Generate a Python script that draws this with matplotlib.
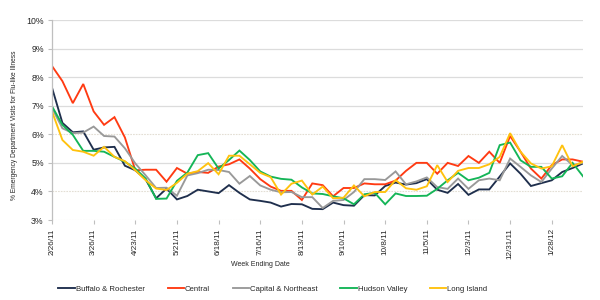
import matplotlib
matplotlib.use("Agg")
import matplotlib.pyplot as plt
import numpy as np

plt.rcParams['font.family'] = ['Liberation Sans', 'DejaVu Sans']

tick_labels = ["2/26/11", "3/26/11", "4/23/11", "5/21/11", "6/18/11", "7/16/11",
               "8/13/11", "9/10/11", "10/8/11", "11/5/11", "12/3/11", "12/31/11", "1/28/12"]

buffalo = [7.63, 6.40, 6.07, 6.10, 5.46, 5.54, 5.56, 4.90, 4.74, 4.42,
           3.76, 4.10, 3.72, 3.84, 4.06, 4.00, 3.94, 4.22, 3.95, 3.72,
           3.67, 3.61, 3.47, 3.56, 3.55, 3.39, 3.38, 3.61, 3.52, 3.50,
           3.87, 3.86, 4.19, 4.31, 4.24, 4.29, 4.43, 4.06, 3.95, 4.26,
           3.88, 4.07, 4.07, 4.52, 4.98, 4.62, 4.19, 4.29, 4.39, 4.68,
           4.82, 4.98]
central = [8.39, 7.86, 7.09, 7.76, 6.80, 6.33, 6.60, 5.89, 4.74, 4.76,
           4.76, 4.34, 4.82, 4.62, 4.68, 4.65, 4.87, 4.95, 5.12, 4.80,
           4.43, 4.17, 4.02, 4.02, 3.70, 4.28, 4.22, 3.83, 4.12, 4.12,
           4.28, 4.25, 4.25, 4.38, 4.72, 5.00, 5.00, 4.62, 5.00, 4.89,
           5.24, 5.00, 5.39, 5.00, 5.94, 5.39, 4.80, 4.45, 4.92, 5.12,
           5.12, 5.04]
capital = [6.92, 6.21, 6.04, 6.06, 6.27, 5.94, 5.92, 5.51, 4.98, 4.56,
           4.12, 4.13, 3.85, 4.56, 4.64, 4.76, 4.75, 4.68, 4.27, 4.54,
           4.21, 4.06, 3.97, 3.98, 3.80, 3.80, 3.42, 3.67, 3.70, 3.98,
           4.43, 4.43, 4.40, 4.70, 4.25, 4.35, 4.49, 4.15, 4.09, 4.45,
           4.09, 4.39, 4.45, 4.39, 5.15, 4.86, 4.56, 4.33, 4.80, 5.24,
           4.92, 5.00]
hudson = [6.98, 6.33, 5.98, 5.42, 5.42, 5.39, 5.21, 5.04, 4.80, 4.45,
          3.74, 3.75, 4.37, 4.66, 5.27, 5.34, 4.80, 5.10, 5.43, 5.10,
          4.70, 4.52, 4.44, 4.41, 4.14, 3.93, 3.91, 3.83, 3.76, 3.55,
          3.90, 3.95, 3.55, 3.93, 3.84, 3.84, 3.85, 4.09, 4.39, 4.65,
          4.39, 4.48, 4.65, 5.62, 5.71, 5.09, 4.86, 4.86, 4.45, 4.53,
          5.00, 4.53]
long_island = [6.80, 5.80, 5.45, 5.39, 5.25, 5.56, 5.21, 5.06, 4.74, 4.39,
               4.10, 4.05, 4.30, 4.62, 4.71, 4.99, 4.60, 5.25, 5.25, 4.95,
               4.65, 4.50, 3.89, 4.27, 4.38, 3.89, 4.17, 3.76, 3.78, 4.21,
               3.83, 3.98, 3.98, 4.40, 4.11, 4.06, 4.18, 4.92, 4.33, 4.72,
               4.82, 4.82, 4.95, 5.21, 6.04, 5.39, 4.98, 4.80, 4.88, 5.62,
               4.88, 5.04]

series = [
    ("Buffalo & Rochester", buffalo, "#1f2f4d"),
    ("Central", central, "#ff3a12"),
    ("Capital & Northeast", capital, "#999999"),
    ("Hudson Valley", hudson, "#14b557"),
    ("Long Island", long_island, "#ffc20e"),
]

fig = plt.figure(figsize=(6, 3), dpi=100)
ax = fig.add_axes([52/600, 1-220/300, (583-52)/600, 200/300])

n = len(buffalo)
x = np.arange(n)

# gridlines
for v in range(3, 11):
    if v in (3, 4, 6):
        ax.axhline(v, color="#e3ded4", lw=0.8, ls=(0, (1.5, 1)), zorder=0)
    else:
        ax.axhline(v, color="#dcdcdc", lw=0.9, zorder=0)

for name, vals, col in series:
    ax.plot(x, vals, color=col, lw=1.35, label=name, solid_joinstyle="miter")

ax.set_xlim(0, n - 1)
ax.set_ylim(3, 10)
ax.set_yticks(range(3, 11))
ax.set_yticklabels([f"{v}%" for v in range(3, 11)], fontsize=6.3, color="#262626")
ax.set_xticks(np.arange(0, n, 4)[:len(tick_labels)])
ax.set_xticklabels(tick_labels, rotation=90, fontsize=5.9, color="#262626")
ax.tick_params(axis="y", length=3, color="#bfbfbf", pad=3)
ax.tick_params(axis="x", length=3, color="#bfbfbf", pad=3)

for s in ["top", "right", "bottom"]:
    ax.spines[s].set_visible(False)
ax.spines["left"].set_color("#bfbfbf")
ax.spines["left"].set_linewidth(0.9)

fig.text(15/600, 1-125/300, "% Emergency Department Visits for Flu-like Illness",
         rotation=90, ha="center", va="center", fontsize=4.8, color="#262626")
fig.text(260/600, 1-264/300, "Week Ending Date", ha="center", va="center",
         fontsize=5.0, color="#262626")

leg = fig.legend(loc="center", bbox_to_anchor=(273/600, 1-289/300), ncol=5,
                 frameon=False, fontsize=5.6, handlelength=2.1, handletextpad=0.15,
                 columnspacing=2.9, borderaxespad=0)
for t in leg.get_texts():
    t.set_color("#262626")

fig.savefig("out.png", dpi=100)
